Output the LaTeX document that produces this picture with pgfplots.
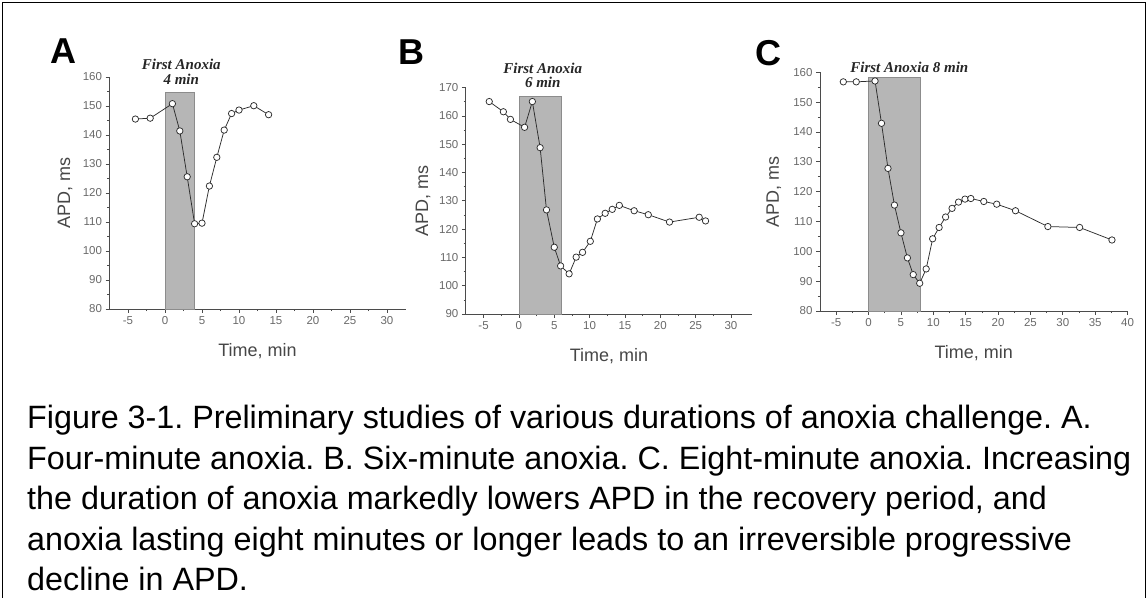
\documentclass[border=0pt]{standalone}
\usepackage{fontspec}
\setmainfont{Liberation Sans}
\newfontfamily\timesbi{Liberation Serif}
\usepackage{pgfplots}
\pgfplotsset{compat=1.18}
\frenchspacing

\definecolor{axgray}{RGB}{75,75,75}
\definecolor{tickgray}{RGB}{105,105,105}
\definecolor{labgray}{RGB}{70,70,70}
\definecolor{shadefill}{RGB}{182,182,182}
\definecolor{shadeedge}{RGB}{140,140,140}
\definecolor{linegray}{RGB}{45,45,45}

\pgfplotstableread{
x y
-4 145.5
-2 145.8
1 150.8
2 141.4
3 125.6
4 109.4
5 109.6
6 122.4
7 132.3
8 141.7
9 147.4
10 148.6
12 150.1
14 147.0
}\dataA

\pgfplotstableread{
x y
-4.2 165.1
-2.2 161.5
-1.2 158.8
0.8 156.0
1.9 165.1
3.0 148.8
3.9 126.8
5.0 113.6
5.9 107.0
7.1 104.2
8.1 110.1
9.0 111.8
10.1 115.7
11.1 123.6
12.2 125.6
13.2 127.0
14.2 128.4
16.3 126.5
18.3 125.1
21.3 122.5
25.5 124.2
26.4 122.9
}\dataB

\pgfplotstableread{
x y
-3.9 156.8
-1.9 156.8
1.0 157.1
2.0 142.9
3.0 127.8
4.0 115.5
5.0 106.2
6.0 97.8
6.9 92.2
7.9 89.3
8.9 94.1
9.9 104.2
10.9 108.0
11.9 111.5
12.9 114.4
13.9 116.5
14.9 117.5
15.8 117.7
17.8 116.7
19.8 115.8
22.7 113.6
27.7 108.3
32.6 108.0
37.6 103.8
}\dataC

\pgfplotsset{
  panel/.style={
    scale only axis,
    axis lines=left,
    axis line style={axgray, line width=0.9pt, -},
    tick align=outside,
    major tick length=4pt,
    minor tick length=2.2pt,
    minor tick num=1,
    tick style={axgray, line width=0.7pt},
    ticklabel style={font=\fontsize{11.5}{13}\selectfont, text=tickgray},
    /pgf/number format/assume math mode=true,
    label style={font=\fontsize{18}{20}\selectfont, text=labgray},
    xlabel={Time, min},
    ylabel={APD, ms},
    xlabel style={at={(axis description cs:0.5,0)}, anchor=center, yshift=-42pt},
    ylabel style={at={(axis description cs:-0.15,0.5)}, anchor=center},
    clip=false,
  },
  series/.style={
    color=linegray, line width=0.75pt,
    mark=*, mark size=3.2pt,
    mark options={fill=white, draw=linegray, line width=0.75pt},
  },
  anoxshade/.style={fill=shadefill, draw=shadeedge, line width=0.6pt},
}
\tikzset{
  anox/.style={font=\timesbi\bfseries\itshape\fontsize{15}{16}\selectfont, text=black!85, align=center},
}

\begin{document}
\begin{tikzpicture}[x=1pt,y=1pt]
\useasboundingbox (0,0) rectangle (1148,597);
% frame
\draw[line width=1.6pt] (2.5,-5) -- (2.5,594.5) -- (1145.5,594.5) -- (1145.5,-5);

% Panel A
\begin{axis}[panel, at={(109.5pt,288pt)}, anchor=south west,
  width=296pt, height=232pt,
  xmin=-7.5, xmax=32.5, ymin=80, ymax=160,
  xtick={-5,0,...,30}, ytick={80,90,...,160}]
  \addplot[anoxshade] coordinates {(0,80) (0,154.7) (4,154.7) (4,80)} -- cycle;
  \addplot[series] table[x=x,y=y] {\dataA};
  \node[anox] at (axis cs:2.2,161.8) {First Anoxia\\[-1pt]4 min};
\end{axis}

% Panel B
\begin{axis}[panel, at={(465.9pt,283pt)}, anchor=south west,
  width=286.3pt, height=226.3pt,
  xmin=-7.5, xmax=33, ymin=90, ymax=170,
  xtick={-5,0,...,30}, ytick={90,100,...,170}]
  \addplot[anoxshade] coordinates {(0,90) (0,167) (6,167) (6,90)} -- cycle;
  \addplot[series] table[x=x,y=y] {\dataB};
  \node[anox] at (axis cs:3.37,174.2) {First Anoxia\\[-2pt]6 min};
\end{axis}

% Panel C
\begin{axis}[panel, at={(820pt,286pt)}, anchor=south west,
  width=307.5pt, height=238.7pt,
  xmin=-7.5, xmax=40, ymin=80, ymax=160,
  xtick={-5,0,...,40}, ytick={80,90,...,160}]
  \addplot[anoxshade] coordinates {(0,80) (0,158.2) (8,158.2) (8,80)} -- cycle;
  \addplot[series] table[x=x,y=y] {\dataC};
  \node[anox] at (axis cs:6.3,161.5) {First Anoxia 8 min};
\end{axis}

% panel letters
\node[font=\bfseries\fontsize{36}{38}\selectfont] at (63,546) {A};
\node[font=\bfseries\fontsize{36}{38}\selectfont] at (411,544.5) {B};
\node[font=\bfseries\fontsize{36}{38}\selectfont] at (768.5,543.5) {C};

% caption
\begin{scope}[every node/.style={anchor=base west, inner sep=0pt, font=\fontsize{32.3}{36}\selectfont}]
\node at (27,168) {Figure 3-1. Preliminary studies of various durations of anoxia challenge. A.};
\node at (27,127.5) {Four-minute anoxia. B. Six-minute anoxia. C. Eight-minute anoxia. Increasing};
\node at (27,87) {the duration of anoxia markedly lowers APD in the recovery period, and};
\node at (27,46.5) {anoxia lasting eight minutes or longer leads to an irreversible progressive};
\node at (27,6.5) {decline in APD.};
\end{scope}
\end{tikzpicture}
\end{document}
